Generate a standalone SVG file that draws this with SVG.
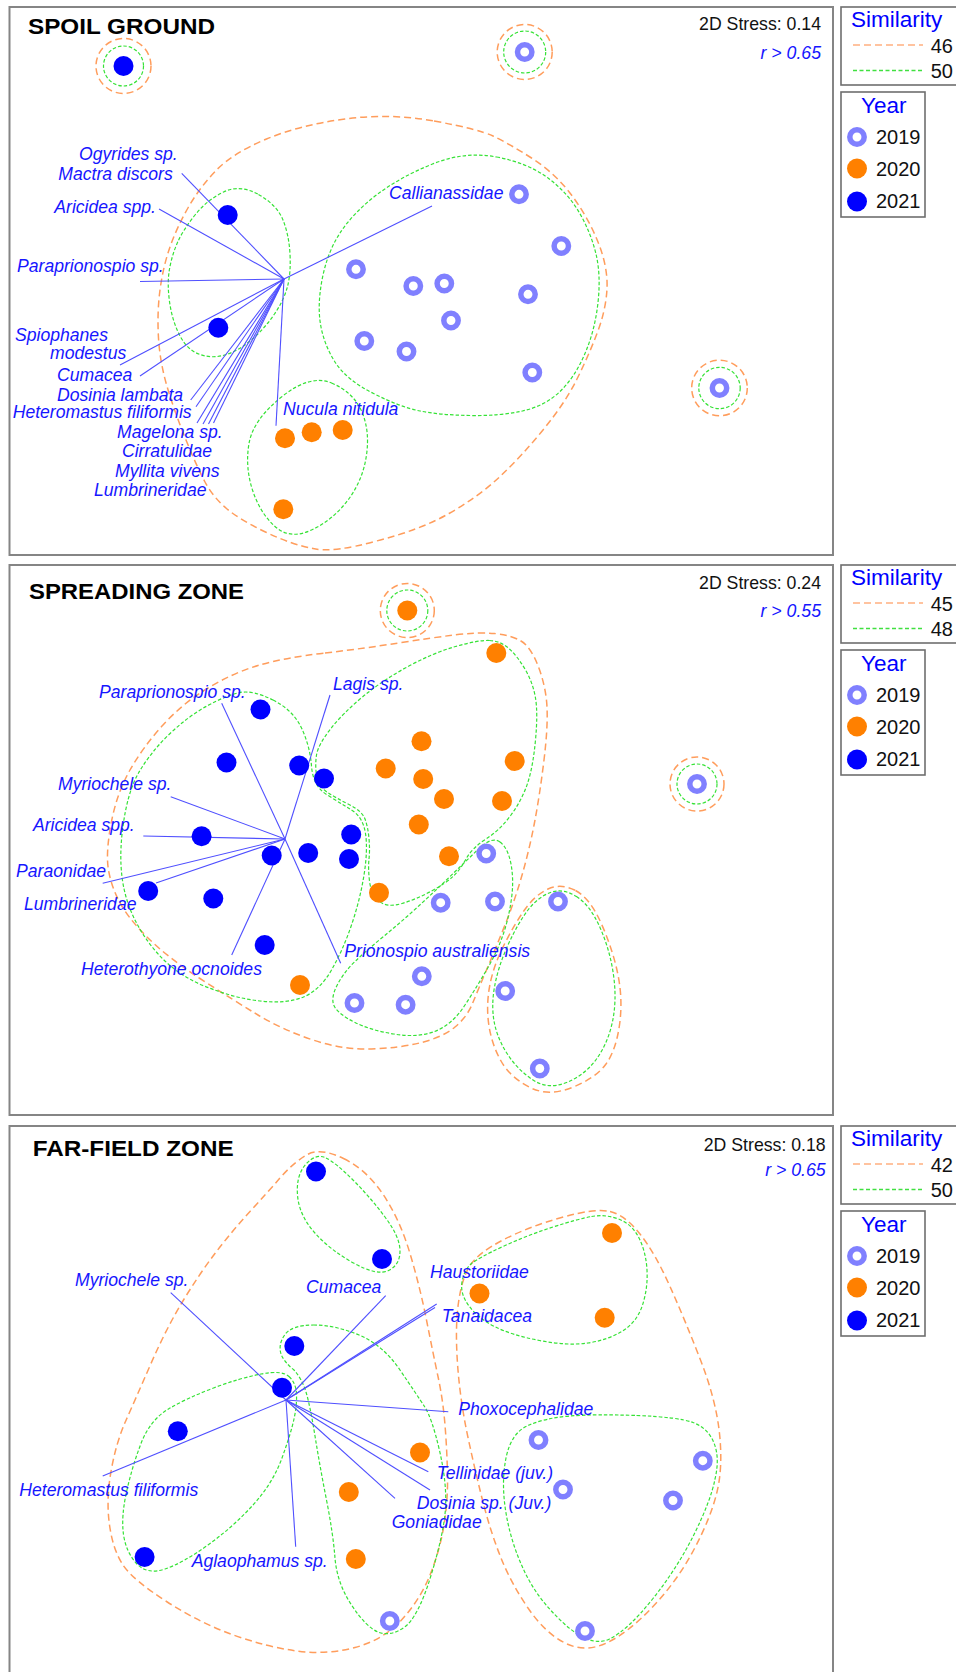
<svg xmlns="http://www.w3.org/2000/svg" xmlns:xlink="http://www.w3.org/1999/xlink" width="956" height="1672" viewBox="0 0 956 1672">
<style>
.frame{fill:none;stroke:#858585;stroke-width:2}
.lgb{fill:#fff;stroke:#6e6e6e;stroke-width:1.6}
.c1{fill:none;stroke:#ff9d5c;stroke-width:1.5;stroke-dasharray:7 4}
.c2{fill:none;stroke:#36e236;stroke-width:1.2;stroke-dasharray:3.5 2}
.vec{stroke:#4f4fff;stroke-width:1.1;fill:none}
.lab{font-family:"Liberation Sans",Arial,sans-serif;font-style:italic;font-size:17.6px;fill:#1616ff}
.ttl{font-family:"Liberation Sans",Arial,sans-serif;font-weight:bold;font-size:22px;fill:#000}
.st{font-family:"Liberation Sans",Arial,sans-serif;font-size:17.7px;fill:#111}
.rr{font-family:"Liberation Sans",Arial,sans-serif;font-style:italic;font-size:17.7px;fill:#1616ff;text-anchor:end}
.lgt{font-family:"Liberation Sans",Arial,sans-serif;font-size:22.5px;fill:#0000ff}
.yr{font-family:"Liberation Sans",Arial,sans-serif;font-size:20px;fill:#111}
.p19{fill:none;stroke:#8080ff;stroke-width:5.5}
.p20{fill:#ff8000}
.p21{fill:#0000ff}
</style>
<defs>
<circle id="r19" r="7.2" class="p19"/>
<circle id="o20" r="10" class="p20"/>
<circle id="b21" r="10" class="p21"/>
<g id="legendTmpl">
<rect class="lgb" x="841" y="7" width="130" height="78"/>
<text class="lgt" x="851" y="27">Similarity</text>
<line x1="853" y1="45" x2="923" y2="45" stroke="#ffb080" stroke-width="1.4" stroke-dasharray="7 4"/>
<line x1="853" y1="70.5" x2="923" y2="70.5" stroke="#40e040" stroke-width="1.3" stroke-dasharray="4 2.5"/>
<rect class="lgb" x="841" y="92" width="84" height="125"/>
<text class="lgt" x="861" y="113">Year</text>
<use xlink:href="#r19" x="857" y="137"/>
<text class="yr" x="876" y="143.5">2019</text>
<use xlink:href="#o20" x="857" y="168.5"/>
<text class="yr" x="876" y="175.5">2020</text>
<use xlink:href="#b21" x="857" y="201.5"/>
<text class="yr" x="876" y="207.5">2021</text>
</g>
</defs>
<rect width="956" height="1672" fill="#fff"/>

<!-- ============ PANEL 1 ============ -->
<g id="panel-spoil-ground">
<rect class="frame" x="9.5" y="7" width="823.5" height="548"/>
<text class="ttl" x="28" y="34" textLength="187" lengthAdjust="spacingAndGlyphs">SPOIL GROUND</text>
<text class="st" x="821" y="29.5" text-anchor="end">2D Stress: 0.14</text>
<text class="rr" x="821" y="59">r &gt; 0.65</text>
<g id="legend-1">
<use xlink:href="#legendTmpl"/>
<text class="yr" x="953" y="53" text-anchor="end">46</text>
<text class="yr" x="953" y="78" text-anchor="end">50</text>
</g>
<g id="contours-1">
<path class="c1" d="M434,121 Q478,129 493,136 Q508,143 531.5,158 Q555,173 571.5,195 Q588,217 598,242 Q608,267 607,288.5 Q606,310 597,333.5 Q588,357 576.5,380 Q565,403 543,430 Q521,457 499.5,477 Q478,497 449,513.5 Q420,530 376.5,541 Q333,553 313,548.5 Q293,545 266.5,532.5 Q240,520 226.5,508.5 Q213,497 205,482 Q197,467 186,440 Q175,413 167.5,388 Q160,363 158.5,338 Q157,313 160,290 Q163,267 170,247 Q177,227 188.5,207 Q200,187 216.5,170 Q233,153 266.5,139 Q300,125 345,119 Q390,113 434,121 Z"/>
<path class="c2" d="M496.5,157 Q528,163 548,178 Q568,193 579.5,213 Q591,233 596,254 Q601,275 598,302.5 Q595,330 585,353.5 Q575,377 560,391.5 Q545,406 522.5,411 Q500,416 470,415.5 Q440,415 420,411 Q400,407 373.5,393.5 Q347,380 336,363.5 Q325,347 321,327 Q317,307 322,280 Q327,253 340,233 Q353,213 376.5,195 Q400,177 432.5,164 Q465,151 496.5,157 Z"/>
<path class="c2" d="M258.5,194.5 Q277,205 283,220 Q289,235 290,254 Q291,273 287.5,286.5 Q284,300 274.5,314 Q265,328 252.5,339 Q240,350 226.5,354.5 Q213,359 200,354.5 Q187,350 179.5,335 Q172,320 169.5,301.5 Q167,283 169.5,269 Q172,255 177.5,242.5 Q183,230 195,215 Q207,200 223.5,192 Q240,184 258.5,194.5 Z"/>
<path class="c2" d="M331.5,383 Q353,392 361.5,411 Q370,430 366.5,455 Q363,480 348,500 Q333,520 311.5,530 Q290,540 275,526.5 Q260,513 252.5,490 Q245,467 249,443.5 Q253,420 281.5,397 Q310,374 331.5,383 Z"/>
<circle class="c1" cx="123.5" cy="66" r="27.5"/>
<circle class="c2" cx="123.5" cy="66" r="20"/>
<circle class="c1" cx="524.7" cy="52" r="27.5"/>
<circle class="c2" cx="524.7" cy="52" r="21"/>
<circle class="c1" cx="719.5" cy="388" r="27.8"/>
<circle class="c2" cx="719.5" cy="388" r="20.7"/>
</g>
<g id="connectors-1">
<line class="vec" x1="284" y1="279" x2="181.7" y2="173.3"/>
<line class="vec" x1="284" y1="279" x2="159" y2="209"/>
<line class="vec" x1="284" y1="279" x2="432" y2="206"/>
<line class="vec" x1="284" y1="279" x2="140" y2="281.5"/>
<line class="vec" x1="284" y1="279" x2="120" y2="365"/>
<line class="vec" x1="284" y1="279" x2="140" y2="376"/>
<line class="vec" x1="284" y1="279" x2="190.7" y2="400"/>
<line class="vec" x1="284" y1="279" x2="196" y2="406.7"/>
<line class="vec" x1="284" y1="279" x2="197" y2="423"/>
<line class="vec" x1="284" y1="279" x2="203" y2="424"/>
<line class="vec" x1="284" y1="279" x2="208.5" y2="424"/>
<line class="vec" x1="284" y1="279" x2="213.5" y2="423"/>
<line class="vec" x1="284" y1="279" x2="276" y2="425.7"/>
</g>
<g id="points-1">
<use xlink:href="#r19" x="524.7" y="52"/>
<use xlink:href="#r19" x="519" y="194.3"/>
<use xlink:href="#r19" x="561.3" y="246"/>
<use xlink:href="#r19" x="356" y="269.3"/>
<use xlink:href="#r19" x="413.3" y="286"/>
<use xlink:href="#r19" x="444.3" y="283.5"/>
<use xlink:href="#r19" x="528" y="294.3"/>
<use xlink:href="#r19" x="451" y="320.5"/>
<use xlink:href="#r19" x="364.3" y="341"/>
<use xlink:href="#r19" x="406.5" y="351.5"/>
<use xlink:href="#r19" x="532.3" y="372.5"/>
<use xlink:href="#r19" x="719.5" y="388"/>
<use xlink:href="#o20" x="285" y="438.3"/>
<use xlink:href="#o20" x="311.7" y="432.3"/>
<use xlink:href="#o20" x="342.7" y="430"/>
<use xlink:href="#o20" x="283.3" y="509.3"/>
<use xlink:href="#b21" x="123.5" y="66"/>
<use xlink:href="#b21" x="227.7" y="215"/>
<use xlink:href="#b21" x="218.3" y="327.7"/>
</g>
<g id="labels-1">
<text class="lab" x="79" y="160">Ogyrides sp.</text>
<text class="lab" x="58.3" y="180">Mactra discors</text>
<text class="lab" x="54.3" y="213">Aricidea spp.</text>
<text class="lab" x="17" y="272">Paraprionospio sp.</text>
<text class="lab" x="389" y="199">Callianassidae</text>
<text class="lab" x="15" y="341">Spiophanes</text>
<text class="lab" x="50" y="359">modestus</text>
<text class="lab" x="57" y="380.5">Cumacea</text>
<text class="lab" x="57" y="400.7">Dosinia lambata</text>
<text class="lab" x="12.7" y="417.7">Heteromastus filiformis</text>
<text class="lab" x="117" y="438">Magelona sp.</text>
<text class="lab" x="122" y="457">Cirratulidae</text>
<text class="lab" x="115" y="476.7">Myllita vivens</text>
<text class="lab" x="94" y="496">Lumbrineridae</text>
<text class="lab" x="283" y="415">Nucula nitidula</text>
</g>
</g>

<!-- ============ PANEL 2 ============ -->
<g id="panel-spreading-zone">
<rect class="frame" x="9.5" y="565" width="823.5" height="550"/>
<text class="ttl" x="29" y="598.5" textLength="215" lengthAdjust="spacingAndGlyphs">SPREADING ZONE</text>
<text class="st" x="821" y="589.3" text-anchor="end">2D Stress: 0.24</text>
<text class="rr" x="821" y="616.7">r &gt; 0.55</text>
<g id="legend-2" transform="translate(0,558)">
<use xlink:href="#legendTmpl"/>
<text class="yr" x="953" y="53" text-anchor="end">45</text>
<text class="yr" x="953" y="78" text-anchor="end">48</text>
</g>
<g id="contours-2">
<path class="c1" d="M325,653 Q367,648 398.5,643 Q430,638 454,635 Q478,632 494.5,633.5 Q511,635 521,641 Q531,647 538.5,667 Q546,687 547,707 Q548,727 544,760 Q540,793 535,820 Q530,847 522.5,873.5 Q515,900 505,925 Q495,950 486.5,970 Q478,990 472.5,1003.5 Q467,1017 455,1027 Q443,1037 421.5,1042.5 Q400,1048 371.5,1049 Q343,1050 313,1040 Q283,1030 258,1015 Q233,1000 200,978.5 Q167,957 147,937 Q127,917 118.5,900 Q110,883 108,866.5 Q106,850 111.5,821.5 Q117,793 130,770 Q143,747 163,725 Q183,703 208,688 Q233,673 258,665.5 Q283,658 325,653 Z"/>
<path class="c1" d="M575.5,890.5 Q590,898 601.5,924 Q613,950 618,975 Q623,1000 619.5,1025 Q616,1050 606,1064 Q596,1078 572,1087.5 Q548,1097 529,1087 Q510,1077 501,1061 Q492,1045 489,1026 Q486,1007 489.5,987 Q493,967 503.5,946 Q514,925 524.5,910 Q535,895 548,889 Q561,883 575.5,890.5 Z"/>
<path class="c2" d="M273,700 Q293,710 301.5,728 Q310,746 311.5,766 Q313,786 326.5,794.5 Q340,803 351.5,810 Q363,817 365.5,833.5 Q368,850 364,875 Q360,900 351.5,925 Q343,950 331.5,970 Q320,990 303.5,997 Q287,1004 260,1001 Q233,998 203,985.5 Q173,973 153,948 Q133,923 125.5,895 Q118,867 122.5,830 Q127,793 138.5,773 Q150,753 168.5,735 Q187,717 207,706 Q227,695 240,692.5 Q253,690 273,700 Z"/>
<path class="c2" d="M489.5,640.5 Q501,641 509.5,649 Q518,657 525.5,670 Q533,683 535.5,698 Q538,713 535.5,740 Q533,767 527.5,783.5 Q522,800 511,815 Q500,830 486,839 Q472,848 466,859 Q460,870 453,876.5 Q446,883 431.5,891 Q417,899 402,903.5 Q387,908 379,901 Q371,894 369.5,881 Q368,868 369,859 Q370,850 369,838.5 Q368,827 365,819 Q362,811 349,804.5 Q336,798 327,792 Q318,786 316.5,775.5 Q315,765 316.5,755 Q318,745 330.5,729 Q343,713 363,696.5 Q383,680 408,666.5 Q433,653 455.5,646.5 Q478,640 489.5,640.5 Z"/>
<path class="c2" d="M500,842 Q508,848 511,864 Q514,880 511.5,898.5 Q509,917 503.5,933.5 Q498,950 488,967.5 Q478,985 465,1005 Q452,1025 434.5,1031.5 Q417,1038 393.5,1034 Q370,1030 355,1022.5 Q340,1015 335,1007.5 Q330,1000 336.5,986.5 Q343,973 355,961.5 Q367,950 383.5,936.5 Q400,923 416.5,908 Q433,893 449,877.5 Q465,862 478.5,849 Q492,836 500,842 Z"/>
<path class="c2" d="M576.5,896.5 Q590,905 600,927.5 Q610,950 613.5,975 Q617,1000 612.5,1021.5 Q608,1043 596.5,1059 Q585,1075 566.5,1082.5 Q548,1090 533,1080 Q518,1070 508,1055 Q498,1040 494.5,1023.5 Q491,1007 494.5,987 Q498,967 508,945 Q518,923 528,910 Q538,897 550.5,892.5 Q563,888 576.5,896.5 Z"/>
<circle class="c1" cx="407.3" cy="610.5" r="27"/>
<circle class="c2" cx="407.3" cy="610.5" r="20.5"/>
<circle class="c1" cx="697" cy="784" r="27"/>
<circle class="c2" cx="697" cy="784" r="20"/>
</g>
<g id="connectors-2">
<line class="vec" x1="285" y1="839" x2="221.7" y2="703.3"/>
<line class="vec" x1="285" y1="839" x2="330" y2="695"/>
<line class="vec" x1="285" y1="839" x2="170.7" y2="796.7"/>
<line class="vec" x1="285" y1="839" x2="143.3" y2="836"/>
<line class="vec" x1="285" y1="839" x2="102.7" y2="883.3"/>
<line class="vec" x1="285" y1="839" x2="156" y2="883"/>
<line class="vec" x1="285" y1="839" x2="231.7" y2="955"/>
<line class="vec" x1="285" y1="839" x2="340.7" y2="963.3"/>
</g>
<g id="points-2">
<use xlink:href="#b21" x="260.5" y="709.5"/>
<use xlink:href="#b21" x="226.5" y="762.5"/>
<use xlink:href="#b21" x="299.2" y="765.5"/>
<use xlink:href="#b21" x="324" y="778.5"/>
<use xlink:href="#b21" x="201.6" y="836.3"/>
<use xlink:href="#b21" x="351.2" y="834.5"/>
<use xlink:href="#b21" x="271.7" y="855.5"/>
<use xlink:href="#b21" x="308.2" y="853"/>
<use xlink:href="#b21" x="349" y="859"/>
<use xlink:href="#b21" x="148.2" y="891"/>
<use xlink:href="#b21" x="213.3" y="898.5"/>
<use xlink:href="#b21" x="264.7" y="945"/>
<use xlink:href="#o20" x="407.3" y="610.5"/>
<use xlink:href="#o20" x="496.3" y="653"/>
<use xlink:href="#o20" x="421.5" y="741.2"/>
<use xlink:href="#o20" x="385.7" y="768.5"/>
<use xlink:href="#o20" x="423.2" y="779"/>
<use xlink:href="#o20" x="444" y="799"/>
<use xlink:href="#o20" x="514.7" y="761"/>
<use xlink:href="#o20" x="502" y="801"/>
<use xlink:href="#o20" x="418.8" y="824.5"/>
<use xlink:href="#o20" x="449" y="856.3"/>
<use xlink:href="#o20" x="379" y="892.7"/>
<use xlink:href="#o20" x="300" y="985"/>
<use xlink:href="#r19" x="697" y="784"/>
<use xlink:href="#r19" x="486.2" y="853.5"/>
<use xlink:href="#r19" x="440.7" y="902.7"/>
<use xlink:href="#r19" x="495" y="901.5"/>
<use xlink:href="#r19" x="558" y="901.5"/>
<use xlink:href="#r19" x="421.8" y="976.3"/>
<use xlink:href="#r19" x="354.5" y="1003"/>
<use xlink:href="#r19" x="405.6" y="1004.7"/>
<use xlink:href="#r19" x="505.2" y="991"/>
<use xlink:href="#r19" x="539.8" y="1068.5"/>
</g>
<g id="labels-2">
<text class="lab" x="99" y="697.7">Paraprionospio sp.</text>
<text class="lab" x="333" y="690">Lagis sp.</text>
<text class="lab" x="58" y="790">Myriochele sp.</text>
<text class="lab" x="33" y="830.7">Aricidea spp.</text>
<text class="lab" x="16" y="876.7">Paraonidae</text>
<text class="lab" x="24" y="910">Lumbrineridae</text>
<text class="lab" x="81" y="975">Heterothyone ocnoides</text>
<text class="lab" x="344.3" y="957.3">Prionospio australiensis</text>
</g>
</g>

<!-- ============ PANEL 3 ============ -->
<g id="panel-far-field-zone">
<rect class="frame" x="9.5" y="1126" width="823.5" height="560"/>
<text class="ttl" x="32.7" y="1156" textLength="201" lengthAdjust="spacingAndGlyphs">FAR-FIELD ZONE</text>
<text class="st" x="825.7" y="1150.7" text-anchor="end">2D Stress: 0.18</text>
<text class="rr" x="825.7" y="1176">r &gt; 0.65</text>
<g id="legend-3" transform="translate(0,1119)">
<use xlink:href="#legendTmpl"/>
<text class="yr" x="953" y="53" text-anchor="end">42</text>
<text class="yr" x="953" y="78" text-anchor="end">50</text>
</g>
<g id="contours-3">
<path class="c1" d="M343.5,1158.5 Q367,1170 383.5,1195 Q400,1220 410,1253.5 Q420,1287 426.5,1320 Q433,1353 438,1376.5 Q443,1400 445,1425 Q447,1450 447.5,1475 Q448,1500 444,1525 Q440,1550 430,1575 Q420,1600 401.5,1620 Q383,1640 355,1647.5 Q327,1655 297,1651 Q267,1647 233.5,1635 Q200,1623 166.5,1601.5 Q133,1580 123,1565 Q113,1550 109.5,1525 Q106,1500 111,1471.5 Q116,1443 125.5,1421.5 Q135,1400 151,1363.5 Q167,1327 183.5,1300 Q200,1273 216.5,1251.5 Q233,1230 250,1211.5 Q267,1193 280,1178 Q293,1163 306.5,1155 Q320,1147 343.5,1158.5 Z"/>
<path class="c1" d="M610,1211.5 Q625,1215 640,1234 Q655,1253 670,1286.5 Q685,1320 700.5,1360 Q716,1400 719.5,1433.5 Q723,1467 717,1492 Q711,1517 694.5,1548.5 Q678,1580 653,1606.5 Q628,1633 606.5,1643 Q585,1653 565,1643 Q545,1633 528,1608 Q511,1583 501,1558 Q491,1533 483.5,1504 Q476,1475 468,1437.5 Q460,1400 457.5,1363.5 Q455,1327 458.5,1302.5 Q462,1278 470,1265.5 Q478,1253 503,1240 Q528,1227 561.5,1217.5 Q595,1208 610,1211.5 Z"/>
<path class="c2" d="M326,1158 Q336,1163 353,1180 Q370,1197 385,1217 Q400,1237 400,1251 Q400,1265 388.5,1270.5 Q377,1276 353.5,1263 Q330,1250 314.5,1232.5 Q299,1215 297.5,1195 Q296,1175 306,1164 Q316,1153 326,1158 Z"/>
<path class="c2" d="M591.5,1216.5 Q605,1214 618.5,1219 Q632,1224 639,1238 Q646,1252 647,1270 Q648,1288 642.5,1305 Q637,1322 622.5,1331 Q608,1340 588,1343 Q568,1346 539.5,1340.5 Q511,1335 494.5,1326.5 Q478,1318 469,1306 Q460,1294 462,1282 Q464,1270 471,1264 Q478,1258 503,1246.5 Q528,1235 553,1227 Q578,1219 591.5,1216.5 Z"/>
<path class="c2" d="M636.5,1415.5 Q678,1417 693,1422.5 Q708,1428 714,1443 Q720,1458 715,1479 Q711,1500 694.5,1533.5 Q678,1567 653,1598.5 Q628,1630 609.5,1639 Q591,1648 564.5,1624 Q538,1600 524.5,1571.5 Q511,1543 506,1513 Q501,1483 506,1458 Q511,1433 528,1425.5 Q545,1418 570,1416 Q595,1414 636.5,1415.5 Z"/>
<path class="c2" d="M289,1376.5 Q296,1383 296.5,1394 Q297,1405 294,1419 Q291,1433 282,1458 Q273,1483 253,1505 Q233,1527 208,1545 Q183,1563 165,1569 Q147,1575 136.5,1563.5 Q126,1552 123.5,1534.5 Q121,1517 126.5,1492 Q132,1467 141,1443.5 Q150,1420 168.5,1409 Q187,1398 213.5,1388 Q240,1378 261,1374 Q282,1370 289,1376.5 Z"/>
<path class="c2" d="M313.5,1325 Q335,1325 359,1335 Q383,1345 400,1370 Q417,1395 424.5,1406.5 Q432,1418 439.5,1450.5 Q447,1483 445.5,1508 Q444,1533 431,1575.5 Q418,1618 404,1627.5 Q390,1637 378,1632 Q366,1627 351.5,1605 Q337,1583 335,1558 Q333,1533 326.5,1500 Q320,1467 315,1436 Q310,1405 306,1392 Q302,1379 294,1370 Q284,1362 281,1354 Q278,1344 285,1334.5 Q292,1325 313.5,1325 Z"/>
</g>
<g id="connectors-3">
<line class="vec" x1="286" y1="1400" x2="170.7" y2="1292.7"/>
<line class="vec" x1="286" y1="1400" x2="385.7" y2="1295.7"/>
<line class="vec" x1="286" y1="1400" x2="436.7" y2="1304"/>
<line class="vec" x1="286" y1="1400" x2="435" y2="1307.5"/>
<line class="vec" x1="286" y1="1400" x2="448.3" y2="1411.7"/>
<line class="vec" x1="286" y1="1400" x2="428.3" y2="1471.7"/>
<line class="vec" x1="286" y1="1400" x2="430" y2="1490"/>
<line class="vec" x1="286" y1="1400" x2="395" y2="1498.3"/>
<line class="vec" x1="286" y1="1400" x2="295.7" y2="1546.7"/>
<line class="vec" x1="286" y1="1400" x2="102.7" y2="1476"/>
</g>
<g id="points-3">
<use xlink:href="#b21" x="316" y="1171.5"/>
<use xlink:href="#b21" x="382" y="1259"/>
<use xlink:href="#b21" x="294.3" y="1346"/>
<use xlink:href="#b21" x="282" y="1387.7"/>
<use xlink:href="#b21" x="177.8" y="1431.3"/>
<use xlink:href="#b21" x="144.6" y="1557"/>
<use xlink:href="#o20" x="612" y="1233"/>
<use xlink:href="#o20" x="479.5" y="1293.5"/>
<use xlink:href="#o20" x="604.7" y="1317.7"/>
<use xlink:href="#o20" x="420" y="1452.5"/>
<use xlink:href="#o20" x="348.8" y="1492"/>
<use xlink:href="#o20" x="355.8" y="1559"/>
<use xlink:href="#r19" x="538.5" y="1440"/>
<use xlink:href="#r19" x="563" y="1489.5"/>
<use xlink:href="#r19" x="702.8" y="1460.7"/>
<use xlink:href="#r19" x="673" y="1500.5"/>
<use xlink:href="#r19" x="585" y="1631"/>
<use xlink:href="#r19" x="389.8" y="1621"/>
</g>
<g id="labels-3">
<text class="lab" x="75" y="1286">Myriochele sp.</text>
<text class="lab" x="306" y="1292.7">Cumacea</text>
<text class="lab" x="430" y="1278.3">Haustoriidae</text>
<text class="lab" x="441.7" y="1321.7">Tanaidacea</text>
<text class="lab" x="458.3" y="1415">Phoxocephalidae</text>
<text class="lab" x="436.7" y="1479">Tellinidae (juv.)</text>
<text class="lab" x="416.7" y="1509.3">Dosinia sp. (Juv.)</text>
<text class="lab" x="391.7" y="1528.3">Goniadidae</text>
<text class="lab" x="19.3" y="1495.7">Heteromastus filiformis</text>
<text class="lab" x="191.7" y="1566.7">Aglaophamus sp.</text>
</g>
</g>
</svg>
